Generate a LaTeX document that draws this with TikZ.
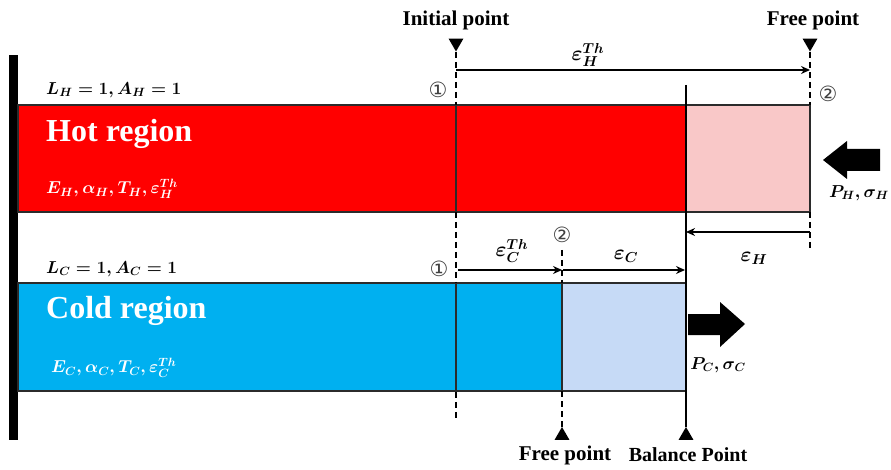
\documentclass[tikz,border=0pt]{standalone}
\usepackage{fontspec}
\setmainfont{Liberation Serif}
\newfontfamily\circfont{DejaVu Sans}
\usepackage{amsmath}
\usepackage{xcolor}
\definecolor{HotRed}{HTML}{FF0000}
\definecolor{HotPink}{HTML}{F9C8C8}
\definecolor{ColdBlue}{HTML}{00B0F0}
\definecolor{ColdLight}{HTML}{C6DAF6}
\definecolor{EdgeGrey}{HTML}{2B2B2B}
\usetikzlibrary{shapes.geometric, arrows.meta, positioning, calc}
\tikzstyle{box} = [draw=EdgeGrey, line width=1.4pt]
\tikzstyle{guide} = [line width=1.6pt, dash pattern=on 6pt off 4pt]
\tikzstyle{solidguide} = [line width=1.6pt]
\tikzstyle{dimarrow} = [line width=1.4pt, -{Stealth[length=9pt,width=8pt]}]
\tikzstyle{markdown} = [regular polygon, regular polygon sides=3, shape border rotate=180, fill=black, inner sep=0pt, minimum size=17pt]
\tikzstyle{markup} = [regular polygon, regular polygon sides=3, fill=black, inner sep=0pt, minimum size=17pt]
\tikzstyle{pointlabel} = [font=\bfseries\fontsize{21}{24}\selectfont, inner sep=0pt]
\tikzstyle{regionlabel} = [font=\bfseries\fontsize{32}{36}\selectfont, text=white, inner sep=0pt, anchor=west]
\tikzstyle{mathlabel} = [font=\boldmath\fontsize{17}{20}\selectfont, inner sep=0pt]
\tikzstyle{strainlabel} = [font=\boldmath\fontsize{20}{22}\selectfont, inner sep=0pt]
\tikzstyle{circled} = [font=\circfont\fontsize{21}{22}\selectfont, text=black!75, inner sep=0pt]

\begin{document}
\begin{tikzpicture}[x=1pt, y=-1pt]
        \useasboundingbox (0,0) rectangle (891,470);

        % Wall
        \fill[black] (9,55) rectangle (18,440);

        % Bars
        \draw [box, fill=HotRed] (18,105) rectangle (686,212);
        \draw [box, fill=HotPink] (686,105) rectangle (810,212);
        \draw [box, fill=ColdBlue] (18,283) rectangle (562,391);
        \draw [box, fill=ColdLight] (562,283) rectangle (686,391);

        % Point markers
        \node [markdown] (initmark) at (456,43) {};
        \node [markdown] (hfreemark) at (810,43) {};
        \node [markup] (cfreemark) at (562,435.5) {};
        \node [markup] (balmark) at (686,435.5) {};

        \node [pointlabel] (initlbl) at (456,20) {Initial point};
        \node [pointlabel] (hfreelbl) at (813,20) {Free point};
        \node [pointlabel] (cfreelbl) at (565,455) {Free point};
        \node [pointlabel, font=\bfseries\fontsize{20}{24}\selectfont] (ballbl) at (688,455) {Balance Point};

        % Guide lines
        \coordinate (initbot) at (456,418);
        \coordinate (hfreebot) at (810,248);
        \coordinate (cfreetop) at (562,250);
        \coordinate (baltop) at (686,85);
        \draw [guide] (initmark.corner 1) -- (initbot);
        \draw [box] (456,105) -- (456,212);
        \draw [box] (456,283) -- (456,391);
        \draw [guide] (hfreemark.corner 1) -- (810,105);
        \draw [guide] (810,212) -- (hfreebot);
        \draw [guide] (cfreetop) -- (562,283);
        \draw [guide] (562,391) -- (cfreemark.corner 1);
        \draw [solidguide] (baltop) -- (balmark.corner 1);

        % Strain arrows
        \coordinate (hthS) at (456,70);
        \coordinate (hthE) at (810,70);
        \coordinate (hS) at (810,232);
        \coordinate (hE) at (686,232);
        \coordinate (cthS) at (458,270);
        \coordinate (cthE) at (562,270);
        \coordinate (cS) at (563,270);
        \coordinate (cE) at (685,270);
        \draw [dimarrow] (hthS) -- (hthE);
        \draw [dimarrow] (hS) -- (hE);
        \draw [dimarrow] (cthS) -- (cthE);
        \draw [dimarrow] (cS) -- (cE);

        \node [strainlabel] (hthlbl) at (588,55) {$\varepsilon_H^{Th}$};
        \node [strainlabel] (hlbl) at (754,258) {$\varepsilon_H$};
        \node [strainlabel] (cthlbl) at (512,251) {$\varepsilon_C^{Th}$};
        \node [strainlabel] (clbl) at (626,256) {$\varepsilon_C$};

        % Circled positions
        \node [circled] (hone) at (438,90) {①};
        \node [circled] (htwo) at (828,94) {②};
        \node [circled] (cone) at (439,269) {①};
        \node [circled] (ctwo) at (562,235) {②};

        % Region texts
        \node [mathlabel, anchor=west] (hgeo) at (46,90) {$L_H = 1, A_H = 1$};
        \node [regionlabel] (hname) at (46,134) {Hot region};
        \node [mathlabel, anchor=west, text=white] (hprop) at (46,189) {$E_H, \alpha_H, T_H, \varepsilon_H^{Th}$};
        \node [mathlabel, anchor=west] (cgeo) at (46,269) {$L_C = 1, A_C = 1$};
        \node [regionlabel] (cname) at (46,311) {Cold region};
        \node [mathlabel, anchor=west, text=white] (cprop) at (51,368) {$E_C, \alpha_C, T_C, \varepsilon_C^{Th}$};

        % Load arrows
        \fill [black] (823,160) -- (847,141) -- (847,149) -- (880,149) -- (880,171) -- (847,171) -- (847,179) -- cycle;
        \fill [black] (745,324) -- (720,302) -- (720,314) -- (688,314) -- (688,335) -- (720,335) -- (720,347) -- cycle;
        \node [mathlabel] (hload) at (859,193) {$P_H, \sigma_H$};
        \node [mathlabel] (cload) at (718,365) {$P_C, \sigma_C$};
    \end{tikzpicture}
\end{document}
